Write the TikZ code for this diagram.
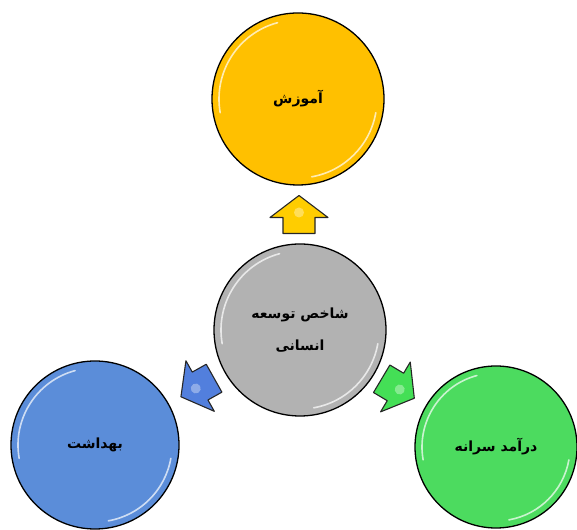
\documentclass[tikz,border=0pt]{standalone}
\usepackage{fontspec}
\newfontfamily\arabicfont[Script=Arabic]{DejaVu Sans}
\TeXXeTstate=1
\usetikzlibrary{calc}
\definecolor{eduyellow}{HTML}{FFC000}
\definecolor{hdigray}{HTML}{B2B2B2}
\definecolor{healthblue}{HTML}{5B8DD9}
\definecolor{incomegreen}{HTML}{4CDB5F}
\tikzset{
	ball/.style={circle,draw=black,line width=1.3pt,inner sep=0pt,align=center,font=\arabicfont\bfseries\fontsize{14}{32}\selectfont},
	gloss/.style={white,opacity=0.7,line width=1.6pt,line cap=round},
	blockarrow/.style={draw=black!85,line width=1.1pt,line join=round}
}
\newcommand{\outarrow}[4]{%
	\begin{scope}[shift={($(#1)!0.5!(#2)$)},rotate=#3]
		\draw[blockarrow,fill=#4] (-19,-16)--(-3,-16)--(-3,-29)--(19,0)--(-3,29)--(-3,16)--(-19,16)--cycle;
		\fill[white,opacity=0.35] (2,0) circle (5);
	\end{scope}}
\newcommand{\shine}[2]{%
	\draw[gloss] ($(#1)+(105:#2-7)$) arc (105:190:#2-7);
	\draw[gloss] ($(#1)+(-80:#2-7)$) arc (-80:-10:#2-7);}
\begin{document}
\begin{tikzpicture}[x=1pt,y=1pt]
		\useasboundingbox (0,0) rectangle (577,529);
		\node[ball,fill=eduyellow,minimum size=172pt] (edu) at (298,430) {\beginR آموزش\endR};
		\node[ball,fill=hdigray,minimum size=172pt] (hdi) at (300,199) {\beginR شاخص توسعه\endR\\\beginR انسانی\endR};
		\node[ball,fill=healthblue,minimum size=168pt] (health) at (95,84) {\beginR بهداشت\endR};
		\node[ball,fill=incomegreen,minimum size=162pt] (income) at (496,82) {\beginR درآمد سرانه\endR};
		
		\shine{edu}{86}
		\shine{hdi}{86}
		\shine{health}{84}
		\shine{income}{81}
		
		\outarrow{hdi}{edu}{90}{eduyellow!80!yellow}
		\outarrow{hdi}{health}{209.3}{healthblue!90!blue}
		\outarrow{hdi}{income}{-30.8}{incomegreen!90!green}
	\end{tikzpicture}
\end{document}
